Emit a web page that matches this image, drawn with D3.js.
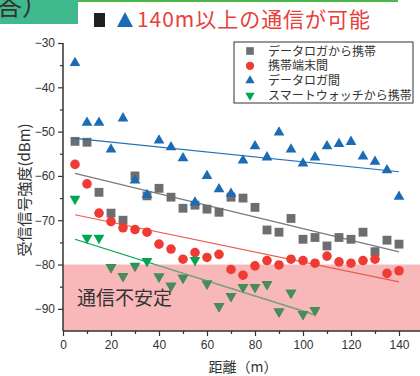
<!DOCTYPE html>
<html>
<head>
<meta charset="utf-8">
<script src="https://cdn.jsdelivr.net/npm/d3@7"></script>
<style>
  body { margin: 0; background: #fff; }
  svg { display: block; font-family: "Noto Sans CJK JP", "Noto Sans", sans-serif; }
</style>
</head>
<body>
<div class="canvas"></div>
<script>
// distances (m)
const distances = d3.range(5, 141, 5);
const greenDistances = d3.range(5, 106, 5);

// received signal strength (dBm)
const loggerToPhone = [-52.2, -52.4, -63.7, -68.4, -70, -60, -64.5, -62.8, -64.8, -67.3, -66.6, -67.5, -68.2, -64.8,
  -65, -67.1, -72.2, -72.7, -69.6, -74.3, -73.9, -75.8, -73.9, -74.3, -72.7, -77.1, -74.5, -75.4];
const phoneToPhone = [-57.4, -61.8, -68.4, -70.3, -71.7, -72.1, -72.7, -75.4, -76.5, -78.8, -77.3, -78.4, -77.7, -81.1,
  -82.4, -80.3, -79.1, -80.1, -78.8, -79.1, -79.7, -78.1, -79.4, -79.7, -79.1, -78.8, -82, -81.4];
const loggerToLogger = [-34.5, -48, -48, -54, -47, -61, -64.3, -52, -53.5, -56, -66, -60, -63, -64,
  -56.5, -53.3, -55.8, -50.2, -54, -57.2, -55.8, -53.3, -52.8, -52.3, -55.6, -56.8, -58.7, -64.7];
const watchToPhone = [-65.2, -74, -74, -80.6, -82.6, -80.3, -79.2, -82.7, -84.8, -83, -79, -84.3, -89.4, -87.1,
  -85.1, -85.1, -84.4, -90.6, -86.4, -91.2, -90.3];

const legendLabels = ['データロガから携帯', '携帯端末間', 'データロガ間', 'スマートウォッチから携帯'];
const xTicks = [0, 20, 40, 60, 80, 100, 120, 140];
const yTicks = [-30, -40, -50, -60, -70, -80, -90];
const unstableLimit = -80;

// Margins + Dimensions
const margin = { top: 43, left: 63, bottom: 45 };
const width = 420, height = 376;
const graphWidth = 360; // 0..150 m, cut by the window
const graphHeight = height - margin.top - margin.bottom;

const svg = d3.select('.canvas').append('svg')
  .attr('width', width)
  .attr('height', height);

// header strip
svg.append('rect').attr('x', 0).attr('y', 0).attr('width', 78).attr('height', 24).attr('fill', '#41b98f');
svg.append('text').attr('x', -4).attr('y', 15).attr('font-size', 26).attr('fill', '#333').text('答）');
svg.append('rect').attr('x', 78).attr('y', 0).attr('width', 320).attr('height', 2).attr('fill', '#4cb848');
svg.append('rect').attr('x', 94).attr('y', 13).attr('width', 11).attr('height', 14).attr('fill', '#231f20');
svg.append('path').attr('d', 'M117,27 L125,12 L133,27 Z').attr('fill', '#1b6bb5');
svg.append('text').attr('x', 137).attr('y', 27).attr('font-size', 21).attr('fill', '#e8403a')
  .attr('textLength', 233).attr('lengthAdjust', 'spacing')
  .text('140m以上の通信が可能');

const graph = svg.append('g').attr('transform', `translate(${margin.left},${margin.top})`);

const xScale = d3.scaleLinear().domain([0, 150]).range([0, graphWidth]);
const yScale = d3.scaleLinear().domain([-95, -30]).range([graphHeight, 0]);

// unstable zone
graph.append('rect')
  .attr('x', 0).attr('y', yScale(unstableLimit))
  .attr('width', graphWidth).attr('height', graphHeight - yScale(unstableLimit))
  .attr('fill', '#f8b8b9');
graph.append('text').attr('x', 14).attr('y', yScale(-89.1)).attr('font-size', 19).attr('fill', '#333')
  .text('通信不安定');

const series = [
  { xs: distances, ys: loggerToPhone, color: '#6d6e71', line: '#7a7a7a', symbol: d3.symbolSquare, size: 78, rot: 0 },
  { xs: distances, ys: phoneToPhone, color: '#ef3b33', line: '#f0584e', symbol: d3.symbolCircle, size: 72, rot: 0 },
  { xs: distances, ys: loggerToLogger, color: '#1b6bb5', line: '#1f6fb8', symbol: d3.symbolTriangle, size: 50, rot: 0 },
  { xs: greenDistances, ys: watchToPhone, color: '#00a651', line: '#00a651', symbol: d3.symbolTriangle, size: 50, rot: 180 }
];

// least squares fit for the trend lines
const fit = (xs, ys) => {
  const mx = d3.mean(xs), my = d3.mean(ys);
  const b = d3.sum(xs, (x, i) => (x - mx) * (ys[i] - my)) / d3.sum(xs, x => (x - mx) ** 2);
  return x => my + b * (x - mx);
};

svg.append('clipPath').attr('id', 'unstable')
  .append('rect')
  .attr('x', 0).attr('y', yScale(unstableLimit))
  .attr('width', graphWidth).attr('height', graphHeight - yScale(unstableLimit));

const drawSeries = (g, s, color, lineColor) => {
  const f = fit(s.xs, s.ys);
  const ext = d3.extent(s.xs);
  g.append('line')
    .attr('x1', xScale(ext[0])).attr('y1', yScale(f(ext[0])))
    .attr('x2', xScale(ext[1])).attr('y2', yScale(f(ext[1])))
    .attr('stroke', lineColor).attr('stroke-width', 1.2);
  g.selectAll('path.pt')
    .data(s.xs.map((x, i) => [x, s.ys[i]]))
    .enter().append('path')
    .attr('class', 'pt')
    .attr('d', d3.symbol().type(s.symbol).size(s.size))
    .attr('transform', d => `translate(${xScale(d[0])},${yScale(d[1])}) rotate(${s.rot})`)
    .attr('fill', color);
};

series.forEach(s => drawSeries(graph.append('g'), s, s.color, s.line));
// the watch points look dull inside the pink zone
drawSeries(graph.append('g').attr('clip-path', 'url(#unstable)'), series[3], '#4c8a58', '#93a088');

// axes
const xAxis = d3.axisBottom(xScale).tickValues(xTicks).tickSize(5).tickPadding(4).tickFormat(d3.format('d'));
const xMinor = d3.axisBottom(xScale).tickValues(d3.range(10, 150, 20)).tickSize(3).tickFormat('');
const yAxis = d3.axisLeft(yScale).tickValues(yTicks).tickSize(5).tickPadding(3);
const yMinor = d3.axisLeft(yScale).tickValues(d3.range(-35, -94, -10)).tickSize(3).tickFormat('');

const styleAxis = g => {
  g.select('.domain').remove();
  g.selectAll('line').attr('stroke', '#333').attr('stroke-width', 1.2);
  g.selectAll('text').attr('fill', '#333').attr('font-size', 12).attr('font-family', 'Liberation Sans, Arial, sans-serif');
};

graph.append('g').attr('transform', `translate(0,${graphHeight})`).call(xAxis).call(styleAxis);
graph.append('g').attr('transform', `translate(0,${graphHeight})`).call(xMinor).call(styleAxis);
graph.append('g').call(yAxis).call(styleAxis);
graph.append('g').call(yMinor).call(styleAxis);

graph.append('line').attr('x1', 0).attr('x2', 0).attr('y1', 0).attr('y2', graphHeight)
  .attr('stroke', '#333').attr('stroke-width', 1.5);
graph.append('line').attr('x1', 0).attr('x2', graphWidth).attr('y1', graphHeight).attr('y2', graphHeight)
  .attr('stroke', '#333').attr('stroke-width', 1.5);

// axis titles
svg.append('text').attr('x', 243).attr('y', 372).attr('text-anchor', 'middle')
  .attr('font-size', 14).attr('fill', '#333').text('距離（m）');
svg.append('text').attr('transform', 'translate(30,190) rotate(-90)').attr('text-anchor', 'middle')
  .attr('font-size', 15).attr('fill', '#333').text('受信信号強度(dBm)');

// legend
const legend = svg.append('g').attr('transform', 'translate(234,42)');
legend.append('rect').attr('x', 0).attr('y', 0).attr('width', 179).attr('height', 61)
  .attr('fill', '#fff').attr('stroke', '#333').attr('stroke-width', 1);
const rows = legend.selectAll('g.row').data(series).enter().append('g')
  .attr('class', 'row')
  .attr('transform', (d, i) => `translate(16,${9 + i * 14.8})`);
rows.append('path')
  .attr('d', d => d3.symbol().type(d.symbol).size(d.size * 0.75)())
  .attr('transform', d => `rotate(${d.rot})`)
  .attr('fill', d => d.color);
rows.append('text').attr('x', 18).attr('y', 4.5).attr('font-size', 12).attr('fill', '#333')
  .text((d, i) => legendLabels[i]);
</script>
</body>
</html>
